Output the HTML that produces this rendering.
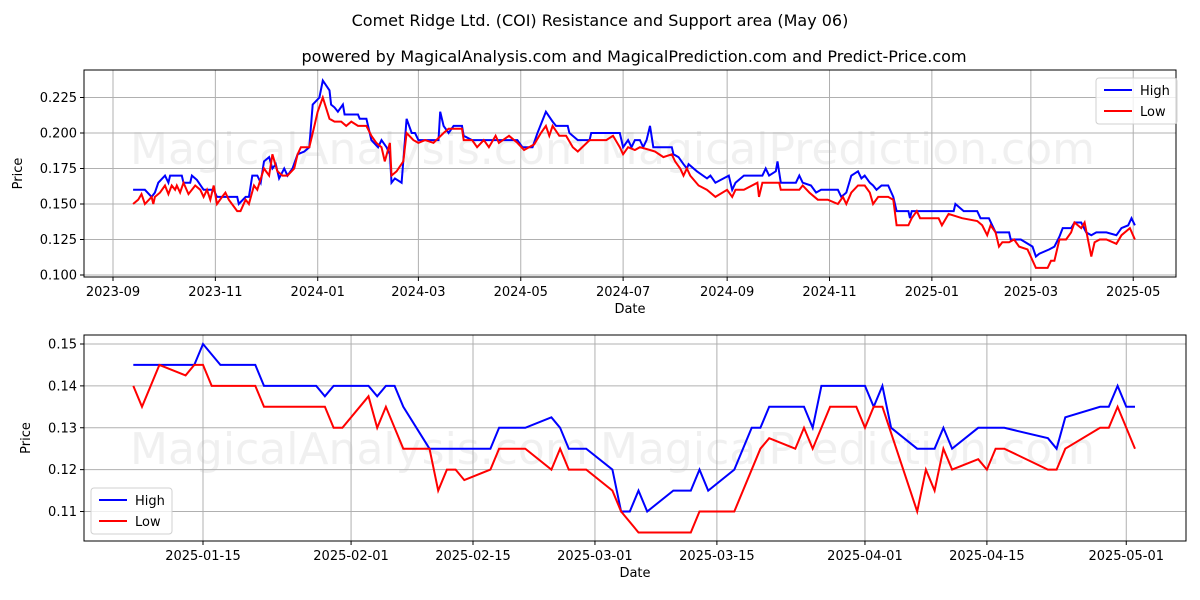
<!DOCTYPE html>
<html><head><meta charset="utf-8"><style>
body{margin:0;background:#fff;}
svg{display:block;font-family:"DejaVu Sans","Liberation Sans",sans-serif;}
</style></head><body>
<svg id="c" width="1200" height="600" xmlns="http://www.w3.org/2000/svg">
<rect width="1200" height="600" fill="#fff"/>
<text x="600" y="26" text-anchor="middle" font-size="16">Comet Ridge Ltd. (COI) Resistance and Support area (May 06)</text>
<text x="634" y="62" text-anchor="middle" font-size="16">powered by MagicalAnalysis.com and MagicalPrediction.com and Predict-Price.com</text>
</svg>
<script>
// Top chart data: day offset from 2023-09-01, value
const topHighDays=[12,19,23,25,27,31,33,34,41,42,46,47,50,54,60,62,74,75,79,81,83,86,88,90,93,95,97,99,102,104,107,110,114,117,119,123,125,129,130,132,134,137,138,146,147,151,154,158,160,163,165,166,168,172,175,178,180,182,194,195,197,200,203,208,209,214,241,244,250,253,258,262,264,271,272,277,284,285,300,302,304,307,309,311,314,316,318,320,322,333,334,337,340,342,343,348,354,356,359,367,369,371,376,387,389,391,395,396,398,407,409,411,416,419,422,432,434,437,440,444,446,448,451,453,455,458,462,465,467,474,475,476,488,501,502,507,515,517,522,526,534,535,541,548,550,552,558,561,564,566,571,573,577,580,583,586,592,598,601,605,607,609];
const topHighVals=[0.160,0.160,0.155,0.158,0.165,0.170,0.165,0.170,0.170,0.165,0.165,0.170,0.167,0.160,0.160,0.155,0.155,0.150,0.155,0.155,0.170,0.170,0.165,0.180,0.183,0.175,0.178,0.168,0.175,0.170,0.175,0.185,0.187,0.190,0.220,0.225,0.237,0.230,0.220,0.218,0.215,0.220,0.213,0.213,0.210,0.210,0.195,0.190,0.195,0.190,0.185,0.165,0.168,0.165,0.210,0.200,0.200,0.195,0.195,0.215,0.205,0.200,0.205,0.205,0.198,0.195,0.195,0.190,0.190,0.200,0.215,0.208,0.205,0.205,0.200,0.195,0.195,0.200,0.200,0.200,0.190,0.195,0.190,0.195,0.195,0.190,0.195,0.205,0.190,0.190,0.185,0.183,0.178,0.175,0.178,0.173,0.168,0.170,0.165,0.170,0.160,0.165,0.170,0.170,0.175,0.170,0.173,0.180,0.165,0.165,0.170,0.165,0.163,0.158,0.160,0.160,0.155,0.158,0.170,0.173,0.168,0.170,0.165,0.163,0.160,0.163,0.163,0.155,0.145,0.145,0.140,0.145,0.145,0.145,0.150,0.145,0.145,0.140,0.140,0.130,0.130,0.125,0.125,0.120,0.113,0.115,0.118,0.120,0.127,0.133,0.133,0.137,0.137,0.130,0.128,0.130,0.130,0.128,0.133,0.135,0.140,0.135];
const topLowDays=[12,15,17,19,23,24,25,28,31,33,35,37,38,40,42,45,49,52,54,56,58,60,62,65,67,69,74,76,79,81,84,86,90,93,95,98,101,104,108,110,112,117,120,122,125,129,132,136,139,142,146,151,154,157,160,162,165,166,169,173,175,179,182,186,191,197,200,203,208,209,214,217,221,224,228,230,236,241,245,251,255,258,260,262,266,270,274,277,284,287,294,298,302,304,307,311,314,320,323,328,333,335,338,340,342,344,349,354,359,366,369,371,376,384,385,387,397,398,409,411,415,420,426,432,435,437,440,444,448,451,453,456,462,465,467,474,476,479,481,492,494,498,506,515,518,521,523,526,528,530,534,537,540,545,550,557,559,561,564,568,571,573,577,579,583,585,588,592,598,601,606,609];
const topLowVals=[0.150,0.153,0.157,0.150,0.155,0.150,0.155,0.158,0.163,0.157,0.163,0.160,0.163,0.158,0.165,0.157,0.163,0.160,0.155,0.160,0.153,0.163,0.150,0.155,0.158,0.153,0.145,0.145,0.153,0.150,0.163,0.160,0.175,0.170,0.185,0.173,0.170,0.170,0.175,0.185,0.190,0.190,0.205,0.215,0.225,0.210,0.208,0.208,0.205,0.208,0.205,0.205,0.198,0.193,0.190,0.180,0.193,0.170,0.173,0.180,0.200,0.195,0.193,0.195,0.193,0.200,0.203,0.203,0.203,0.195,0.195,0.190,0.195,0.190,0.198,0.193,0.198,0.193,0.188,0.192,0.200,0.205,0.198,0.205,0.198,0.198,0.190,0.187,0.195,0.195,0.195,0.198,0.190,0.185,0.190,0.188,0.190,0.188,0.187,0.183,0.185,0.180,0.175,0.170,0.175,0.170,0.163,0.160,0.155,0.160,0.155,0.160,0.160,0.165,0.155,0.165,0.165,0.160,0.160,0.163,0.158,0.153,0.153,0.150,0.155,0.150,0.158,0.163,0.163,0.158,0.150,0.155,0.155,0.153,0.135,0.135,0.140,0.145,0.140,0.140,0.135,0.143,0.140,0.138,0.135,0.128,0.135,0.130,0.120,0.123,0.123,0.125,0.120,0.118,0.105,0.105,0.110,0.110,0.125,0.125,0.130,0.137,0.133,0.137,0.113,0.123,0.125,0.125,0.122,0.128,0.133,0.125];
const topYTicks=[0.100,0.125,0.150,0.175,0.200,0.225];
const topXTickDays=[0,61,122,182,243,304,366,427,488,547,608];
const topXTickLabels=["2023-09","2023-11","2024-01","2024-03","2024-05","2024-07","2024-09","2024-11","2025-01","2025-03","2025-05"];
// Bottom chart data: day offset from 2025-01-15
const botHighDays=[-8,-1,0,2,6,7,13,14,15,19,20,21,22,23,26,33,34,37,40,41,42,44,47,48,49,50,51,54,56,57,58,61,63,64,65,69,70,71,76,77,78,79,82,84,85,86,89,92,97,98,99,103,104,105,106,107];
const botHighVals=[0.145,0.145,0.150,0.145,0.145,0.140,0.140,0.1375,0.140,0.140,0.1375,0.140,0.140,0.135,0.125,0.125,0.130,0.130,0.1325,0.130,0.125,0.125,0.120,0.110,0.110,0.115,0.110,0.115,0.115,0.120,0.115,0.120,0.130,0.130,0.135,0.135,0.130,0.140,0.140,0.135,0.140,0.130,0.125,0.125,0.130,0.125,0.130,0.130,0.1275,0.125,0.1325,0.135,0.135,0.140,0.135,0.135];
const botLowDays=[-8,-7,-5,-2,-1,0,1,6,7,14,15,16,19,20,21,23,26,27,28,29,30,33,34,37,40,41,42,44,47,48,50,56,57,61,64,65,68,69,70,72,75,76,77,78,82,83,84,85,86,89,90,91,92,97,98,99,103,104,105,107];
const botLowVals=[0.140,0.135,0.145,0.1425,0.145,0.145,0.140,0.140,0.135,0.135,0.130,0.130,0.1375,0.130,0.135,0.125,0.125,0.115,0.120,0.120,0.1175,0.120,0.125,0.125,0.120,0.125,0.120,0.120,0.115,0.110,0.105,0.105,0.110,0.110,0.125,0.1275,0.125,0.130,0.125,0.135,0.135,0.130,0.135,0.135,0.110,0.120,0.115,0.125,0.120,0.1225,0.120,0.125,0.125,0.120,0.120,0.125,0.130,0.130,0.135,0.125];
const botYTicks=[0.11,0.12,0.13,0.14,0.15];
const botXTickDays=[0,17,31,45,59,76,90,106];
const botXTickLabels=["2025-01-15","2025-02-01","2025-02-15","2025-03-01","2025-03-15","2025-04-01","2025-04-15","2025-05-01"];

const NS="http://www.w3.org/2000/svg";
const svg=document.getElementById('c');
function mk(tag,attrs,parent){const e=document.createElementNS(NS,tag);for(const k in attrs)e.setAttribute(k,attrs[k]);(parent||svg).appendChild(e);return e;}

function panel(o){
  const g=mk('g',{});
  
  
  const wm1=mk('text',{x:o.wm1x,y:o.wmy,'font-size':44,fill:'#000','fill-opacity':0.06},g);wm1.textContent='MagicalAnalysis.com';
  
  
  const wm2=mk('text',{x:o.wm2x,y:o.wmy,'font-size':44,fill:'#000','fill-opacity':0.06},g);wm2.textContent='MagicalPrediction.com';
  
  
  o.xTickDays.forEach((d,i)=>{const x=o.xs(d);
    mk('line',{x1:x,x2:x,y1:o.y0,y2:o.y1,stroke:'#b0b0b0','stroke-width':1},g);
    mk('line',{x1:x,x2:x,y1:o.y1,y2:o.y1+4,stroke:'#000'},g);
    const t=mk('text',{x:x,y:o.y1+19,'text-anchor':'middle','font-size':13},g);t.textContent=o.xTickLabels[i];
    
    
  });
  o.yTicks.forEach(v=>{const y=o.ys(v);
    mk('line',{x1:o.x0,x2:o.x1,y1:y,y2:y,stroke:'#b0b0b0','stroke-width':1},g);
    mk('line',{x1:o.x0-4,x2:o.x0,y1:y,y2:y,stroke:'#000'},g);
    const t=mk('text',{x:o.x0-7,y:y+4.5,'text-anchor':'end','font-size':13},g);t.textContent=v.toFixed(o.dec);
    
    
  });
  [[o.hd,o.hv,'#0000ff','high-line'],[o.ld,o.lv,'#ff0000','low-line']].forEach(s=>{
    const p=s[0].map((d,i)=>o.xs(d).toFixed(1)+','+o.ys(s[1][i]).toFixed(1)).join(' ');
    const pl=mk('polyline',{points:p,fill:'none',stroke:s[2],'stroke-width':2},g);
    
    
  });
  mk('rect',{x:o.x0,y:o.y0,width:o.x1-o.x0,height:o.y1-o.y0,fill:'none',stroke:'#000','stroke-width':1},g);
  const xt=mk('text',{x:(o.x0+o.x1)/2,y:o.y1+36,'text-anchor':'middle','font-size':13},g);xt.textContent='Date';
  
  
  const yt=mk('text',{x:o.ytx,y:(o.y0+o.y1)/2,'text-anchor':'middle','font-size':13,transform:`rotate(-90 ${o.ytx} ${(o.y0+o.y1)/2})`},g);yt.textContent='Price';
  
  
  const L=o.leg;
  const lg=mk('g',{},g);
  
  
  mk('rect',{x:L[0],y:L[1],width:81,height:46,rx:3,fill:'#fff','fill-opacity':0.8,stroke:'#d0d0d0'},lg);
  [['High','#0000ff',0],['Low','#ff0000',21]].forEach(e=>{
    mk('line',{x1:L[0]+8,x2:L[0]+36,y1:L[1]+12+e[2],y2:L[1]+12+e[2],stroke:e[1],'stroke-width':2},lg);
    const t=mk('text',{x:L[0]+44,y:L[1]+17+e[2],'font-size':13},lg);t.textContent=e[0];
    
    
  });
}
panel({name:'top-chart',x0:84,x1:1176,y0:70,y1:277,xs:d=>113+d*1.678,ys:v=>275-(v-0.1)*1420,
  xTickDays:topXTickDays,xTickLabels:topXTickLabels,yTicks:topYTicks,dec:3,
  hd:topHighDays,hv:topHighVals,ld:topLowDays,lv:topLowVals,ytx:22,leg:[1096,78],wm1x:130,wm2x:600,wmy:164});
panel({name:'bottom-chart',x0:84,x1:1186,y0:335,y1:541,xs:d=>203+d*8.71,ys:v=>344+(0.15-v)*4188,
  xTickDays:botXTickDays,xTickLabels:botXTickLabels,yTicks:botYTicks,dec:2,
  hd:botHighDays,hv:botHighVals,ld:botLowDays,lv:botLowVals,ytx:30,leg:[91,488],wm1x:130,wm2x:600,wmy:464});
</script>
</body></html>
